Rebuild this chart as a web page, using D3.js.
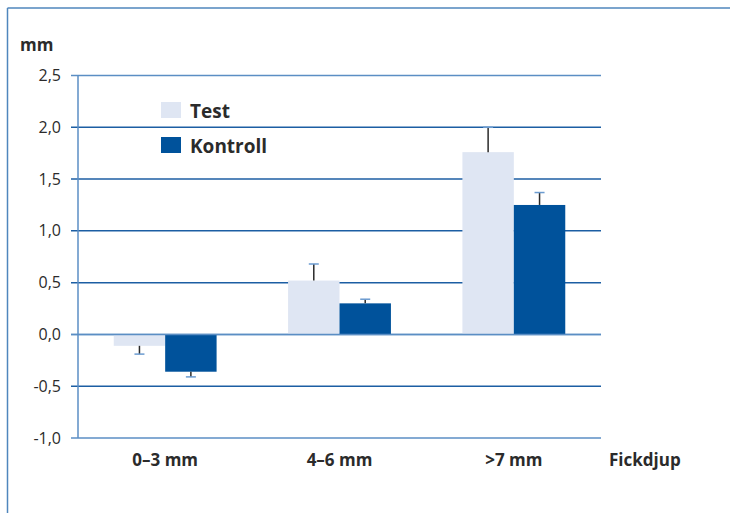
<!DOCTYPE html>
<html><head><meta charset="utf-8">
<script src="https://cdn.jsdelivr.net/npm/d3@7"></script>
<style>body{margin:0;background:#fff;} svg{display:block;font-family:"Open Sans","Noto Sans",sans-serif;}</style>
</head><body>
<script>
const categories = ["0–3 mm", "4–6 mm", ">7 mm"];
const seriesNames = ["Test", "Kontroll"];
const testValues = [-0.11, 0.52, 1.76];
const testErrors = [0.08, 0.16, 0.24];
const kontrollValues = [-0.36, 0.30, 1.25];
const kontrollErrors = [0.05, 0.04, 0.12];
const yTicks = [-1.0, -0.5, 0.0, 0.5, 1.0, 1.5, 2.0, 2.5];
const yLabel = "mm";
const xLabel = "Fickdjup";

const colors = {Test: "#dfe6f3", Kontroll: "#00529b"};
const W = 730, H = 513;
const svg = d3.select("body").append("svg").attr("width", W).attr("height", H);

// frame (top and left)
svg.append("line").attr("x1", 7.5).attr("x2", W).attr("y1", 8).attr("y2", 8).attr("stroke", "#4f86bd").attr("stroke-width", 1.5);
svg.append("line").attr("x1", 7.5).attr("x2", 7.5).attr("y1", 8).attr("y2", H).attr("stroke", "#4f86bd").attr("stroke-width", 1.5);

const x0 = 78, x1 = 601;
const y = d3.scaleLinear().domain([-1, 2.5]).range([438, 75.5]);
const xb = d3.scaleBand().domain(categories).range([x0, x1]).paddingInner(0.41).paddingOuter(0.205);
const xs = d3.scaleBand().domain(seriesNames).range([0, xb.bandwidth()]);

// gridlines
const g = svg.append("g");
g.selectAll("line.grid").data(yTicks).join("line")
  .attr("x1", 71).attr("x2", x1)
  .attr("y1", d => y(d)).attr("y2", d => y(d))
  .attr("stroke", d => (d === 0 || d === -1 || d === 2.5) ? "#5b8ec4" : "#1c5ea3")
  .attr("stroke-width", 1.5);

// y axis labels
g.selectAll("text.yt").data(yTicks).join("text")
  .attr("x", 61).attr("y", d => y(d)).attr("dy", "0.35em")
  .attr("text-anchor", "end").attr("font-size", 16).attr("fill", "#2b2b2b")
  .text(d => d3.format(".1f")(d).replace(".", ",").replace("−", "-"));

const data = categories.map((c, i) => ({c, vals: [
  {s: "Test", v: testValues[i], e: testErrors[i]},
  {s: "Kontroll", v: kontrollValues[i], e: kontrollErrors[i]}
]}));

const groups = svg.append("g").selectAll("g").data(data).join("g")
  .attr("transform", d => `translate(${xb(d.c)},0)`);
groups.selectAll("rect").data(d => d.vals).join("rect")
  .attr("x", d => xs(d.s)).attr("width", xs.bandwidth())
  .attr("y", d => y(Math.max(0, d.v))).attr("height", d => Math.abs(y(d.v) - y(0)))
  .attr("fill", d => colors[d.s]);

// redraw zero line on top
svg.append("line").attr("x1", 71).attr("x2", x1).attr("y1", y(0)).attr("y2", y(0)).attr("stroke", "#5b8ec4").attr("stroke-width", 1.5);

// error bars
const eb = groups.selectAll("g.eb").data(d => d.vals).join("g");
eb.append("line")
  .attr("x1", d => xs(d.s) + xs.bandwidth() / 2).attr("x2", d => xs(d.s) + xs.bandwidth() / 2)
  .attr("y1", d => y(d.v)).attr("y2", d => y(d.v + Math.sign(d.v) * d.e))
  .attr("stroke", "#2a2a2a").attr("stroke-width", 1.5);
eb.append("line")
  .attr("x1", d => xs(d.s) + xs.bandwidth() / 2 - 5).attr("x2", d => xs(d.s) + xs.bandwidth() / 2 + 5)
  .attr("y1", d => y(d.v + Math.sign(d.v) * d.e)).attr("y2", d => y(d.v + Math.sign(d.v) * d.e))
  .attr("stroke", "#6b9bd0").attr("stroke-width", 1.5);

// y axis line
svg.append("line").attr("x1", x0).attr("x2", x0).attr("y1", y(2.5)).attr("y2", y(-1)).attr("stroke", "#5b8ec4").attr("stroke-width", 1.5);

// category labels
svg.append("g").selectAll("text").data(categories).join("text")
  .attr("x", d => xb(d) + xb.bandwidth() / 2).attr("y", 466)
  .attr("text-anchor", "middle").attr("font-size", 17).attr("font-weight", "bold").attr("fill", "#2b2b2b")
  .text(d => d);
svg.append("text").attr("x", 609).attr("y", 466).attr("font-size", 17).attr("font-weight", "bold").attr("fill", "#2b2b2b").text(xLabel);
svg.append("text").attr("x", 20).attr("y", 51).attr("font-size", 17).attr("font-weight", "bold").attr("fill", "#2b2b2b").text(yLabel);

// legend
const leg = svg.append("g").selectAll("g").data(seriesNames).join("g")
  .attr("transform", (d, i) => `translate(161,${102 + i * 35})`);
leg.append("rect").attr("width", 20).attr("height", 16).attr("fill", d => colors[d]);
leg.append("text").attr("x", 29).attr("y", 15.5).attr("font-size", 19).attr("font-weight", "bold").attr("fill", "#2b2b2b").text(d => d);
</script>
</body></html>
